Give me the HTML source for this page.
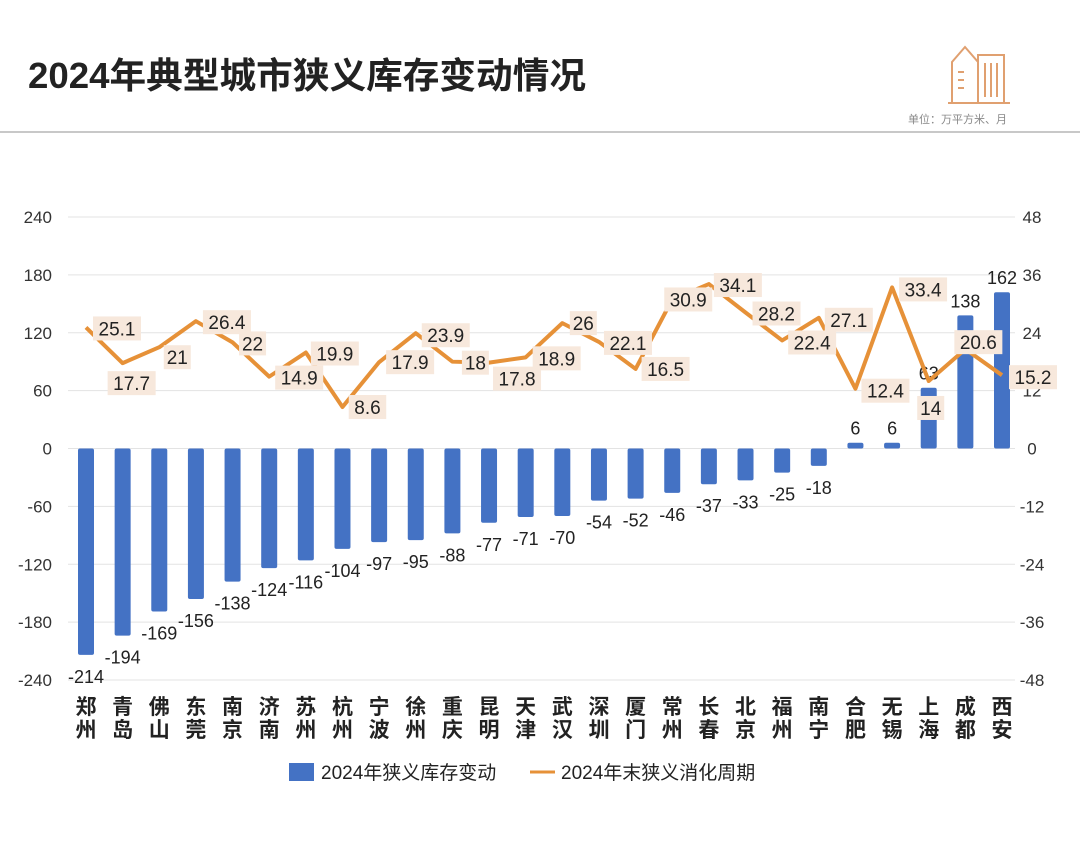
<!DOCTYPE html>
<html><head><meta charset="utf-8">
<style>
html,body{margin:0;padding:0;background:#fff;}
svg{display:block;font-family:"Liberation Sans","Noto Sans CJK SC",sans-serif;}
</style></head>
<body>
<svg id="chart" width="1080" height="844" viewBox="0 0 1080 844">
  <text x="28" y="88" font-size="36" font-weight="bold" fill="#222" textLength="558" lengthAdjust="spacingAndGlyphs">2024年典型城市狭义库存变动情况</text>
  <g fill="none" stroke="#e0a070" stroke-width="2">
    <path d="M952 103 V62 L965 47 L978 62 V103 Z"/>
    <rect x="978" y="55" width="26" height="48"/>
    <path d="M958 72h6M958 80h6M958 88h6M985 63v34M991 63v34M997 63v34"/>
    <line x1="948" y1="103" x2="1010" y2="103"/>
  </g>
  <text x="908" y="123" font-size="11" fill="#888">单位：万平方米、月</text>
  <line x1="0" y1="132" x2="1080" y2="132" stroke="#c8c8c8" stroke-width="2"/>
  <g id="plot"></g>
  <g>
    <rect x="289" y="763" width="25" height="18" fill="#4472c4"/>
    <text x="321" y="779" font-size="19" fill="#222">2024年狭义库存变动</text>
    <line x1="530" y1="772" x2="555" y2="772" stroke="#e69138" stroke-width="3"/>
    <text x="561" y="779" font-size="19" fill="#222">2024年末狭义消化周期</text>
  </g>
</svg>
<script>
const cities = ["郑州","青岛","佛山","东莞","南京","济南","苏州","杭州","宁波","徐州","重庆","昆明","天津","武汉","深圳","厦门","常州","长春","北京","福州","南宁","合肥","无锡","上海","成都","西安"];
const inventoryChange = [-214,-194,-169,-156,-138,-124,-116,-104,-97,-95,-88,-77,-71,-70,-54,-52,-46,-37,-33,-25,-18,6,6,63,138,162];
const cycleMonths = [25.1,17.7,21,26.4,22,14.9,19.9,8.6,17.9,23.9,18,17.8,18.9,26,22.1,16.5,30.9,34.1,28.2,22.4,27.1,12.4,33.4,14,20.6,15.2];
const leftTicks = [240,180,120,60,0,-60,-120,-180,-240];
const rightTicks = [48,36,24,12,0,-12,-24,-36,-48];
// label offsets (styling only)
const lblDx = [31,9,18,31,20,30,29,25,31,30,23,28,31,21,29,30,16,29,31,30,30,30,31,2,13,31];
const lblDy = [1,20,10,1,1,1,1,0,0,2,1,16,1,0,1,0,0,1,1,2,2,2,2,27,-7,2];

const NS="http://www.w3.org/2000/svg";
const plot=document.getElementById('plot');
const yTop=217, yBot=680, x0=86, step=(1002-86)/25;
const yL=v=>yTop+(240-v)/480*(yBot-yTop);
const yR=v=>yTop+(48-v)/96*(yBot-yTop);
const xC=i=>x0+i*step;
function mk(tag,attrs,txt){const e=document.createElementNS(NS,tag);for(const k in attrs)e.setAttribute(k,attrs[k]);if(txt!==undefined)e.textContent=txt;plot.appendChild(e);return e;}

leftTicks.forEach((t,i)=>{
  const g=mk('line',{x1:68,x2:1015,y1:yL(t),y2:yL(t),stroke:'#e3e3e3','stroke-width':1});
  
  
  const l=mk('text',{x:52,y:yL(t)+6,'font-size':17,fill:'#333','text-anchor':'end'},String(t));
  
  
});
rightTicks.forEach(t=>{
  const l=mk('text',{x:1032,y:yR(t)+6,'font-size':17,fill:'#333','text-anchor':'middle'},String(t));
  
  
});
inventoryChange.forEach((v,i)=>{
  const y0=yL(0), y1=yL(v);
  const b=mk('rect',{x:xC(i)-8,y:Math.min(y0,y1),width:16,height:Math.max(1,Math.abs(y1-y0)),fill:'#4472c4',rx:2});
  
  
  const ty = v<0 ? y1+28 : y1-8;
  const t=mk('text',{x:xC(i),y:ty,'font-size':18,fill:'#222','text-anchor':'middle'},String(v));
  
  
});
const pts=cycleMonths.map((v,i)=>xC(i)+','+yR(v)).join(' ');
const pl=mk('polyline',{points:pts,fill:'none',stroke:'#e69138','stroke-width':4,'stroke-linejoin':'round'});


cycleMonths.forEach((v,i)=>{
  const cx=xC(i)+lblDx[i], cy=yR(v)+lblDy[i];
  const s=String(v); const w=s.length*10.5+6;
  const r=mk('rect',{x:cx-w/2,y:cy-12,width:w,height:24,fill:'#f7e8dc'});
  
  
  const t=mk('text',{x:cx,y:cy+7,'font-size':19,fill:'#222','text-anchor':'middle'},s);
  
  
});
cities.forEach((c,i)=>{
  [0,1].forEach(k=>{
    const t=mk('text',{x:xC(i),y:714+k*23,'font-size':21,'font-weight':'bold',fill:'#222','text-anchor':'middle'},c[k]);
    
    
  });
});
</script>
</body></html>
